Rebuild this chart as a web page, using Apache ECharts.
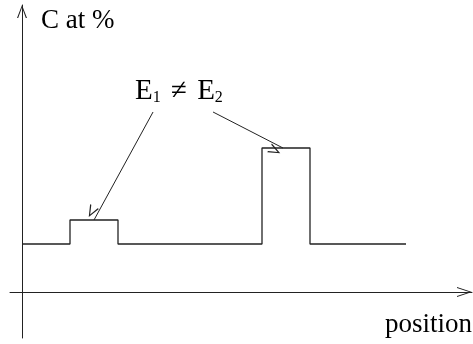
<!DOCTYPE html>
<html>
<head>
<meta charset="utf-8">
<script src="https://cdn.jsdelivr.net/npm/echarts@6/dist/echarts.min.js"></script>
<style>
html,body{margin:0;padding:0;background:#fff;}
#chart{width:473px;height:344px;}
</style>
</head>
<body>
<div id="chart"></div>
<script>
// Step profile: position breakpoints and concentration values (step 'end')
const stepX = [0, 4, 8, 20, 24, 32];
const stepC = [4, 6, 4, 12, 4, 4];
// Annotation arrows (label -> step tops), in data units
const arrowFrom = [[10.92, 15], [15.92, 15]];
const arrowTo = [[6, 6], [21.75, 12]];
// Axis ranges
const xRange = [-1, 37.5];
const yRange = [-3.8333, 23.9167];
// Texts
const yTitle = 'C at %';
const xTitle = 'position';

const chevY = 'path://M0,130 L50,0 L100,130 L88,130 L50,24 L12,130 Z';
const chevX = 'path://M0,150 L50,0 L100,150 L90,150 L50,28 L10,150 Z';
const chevA = 'path://M0,120 L50,0 L100,120 L86,120 L50,30 L14,120 Z';

const serif = 'Liberation Serif';

const chart = echarts.init(document.getElementById('chart'), null, {renderer: 'canvas'});
chart.setOption({
  animation: false,
  backgroundColor: '#fff',
  grid: {left: 10, right: 1, top: 5, bottom: 6},
  xAxis: {
    type: 'value', min: xRange[0], max: xRange[1],
    axisLine: {show: true, onZero: true, lineStyle: {color: '#222', width: 1},
      symbol: ['none', chevX], symbolSize: [10, 15], symbolOffset: [0, -7.5]},
    axisTick: {show: false}, axisLabel: {show: false}, splitLine: {show: false}
  },
  yAxis: {
    type: 'value', min: yRange[0], max: yRange[1],
    axisLine: {show: true, onZero: true, lineStyle: {color: '#222', width: 1},
      symbol: ['none', chevY], symbolSize: [10, 13], symbolOffset: [0, -6.5]},
    axisTick: {show: false}, axisLabel: {show: false}, splitLine: {show: false}
  },
  series: [{
    type: 'line',
    step: 'end',
    showSymbol: false,
    silent: true,
    data: stepX.map((x, i) => [x, stepC[i]]),
    lineStyle: {color: '#222', width: 1.3},
    markLine: {
      silent: true,
      symbol: ['none', chevA],
      symbolSize: [10, 12],
      symbolOffset: [0, 6],
      label: {show: false},
      lineStyle: {color: '#222', width: 1, type: 'solid'},
      emphasis: {disabled: true},
      data: arrowFrom.map((f, i) => [{coord: f}, {coord: arrowTo[i]}])
    }
  }],
  graphic: [
    {type: 'text', left: 41, top: 7,
      style: {text: '{t|' + yTitle + '}', fill: '#000',
        rich: {t: {fontFamily: serif, fontSize: 27, lineHeight: 27}}}},
    {type: 'text', right: 1, top: 311,
      style: {text: '{t|' + xTitle + '}', fill: '#000',
        rich: {t: {fontFamily: serif, fontSize: 27, lineHeight: 27}}}},
    {type: 'text', left: 135, top: 77,
      style: {
        text: '{e|E}{s|1} {n|\u2260} {e|E}{s|2}',
        fontFamily: serif, fontSize: 29, fill: '#000',
        rich: {
          e: {fontSize: 29, fontFamily: serif, lineHeight: 29, verticalAlign: 'bottom'},
          n: {fontSize: 29, fontFamily: serif, lineHeight: 29, verticalAlign: 'bottom', padding: [0, 3, 0, 3]},
          s: {fontSize: 16, fontFamily: serif, lineHeight: 24, verticalAlign: 'bottom'}
        }
      }}
  ]
});
</script>
</body>
</html>
